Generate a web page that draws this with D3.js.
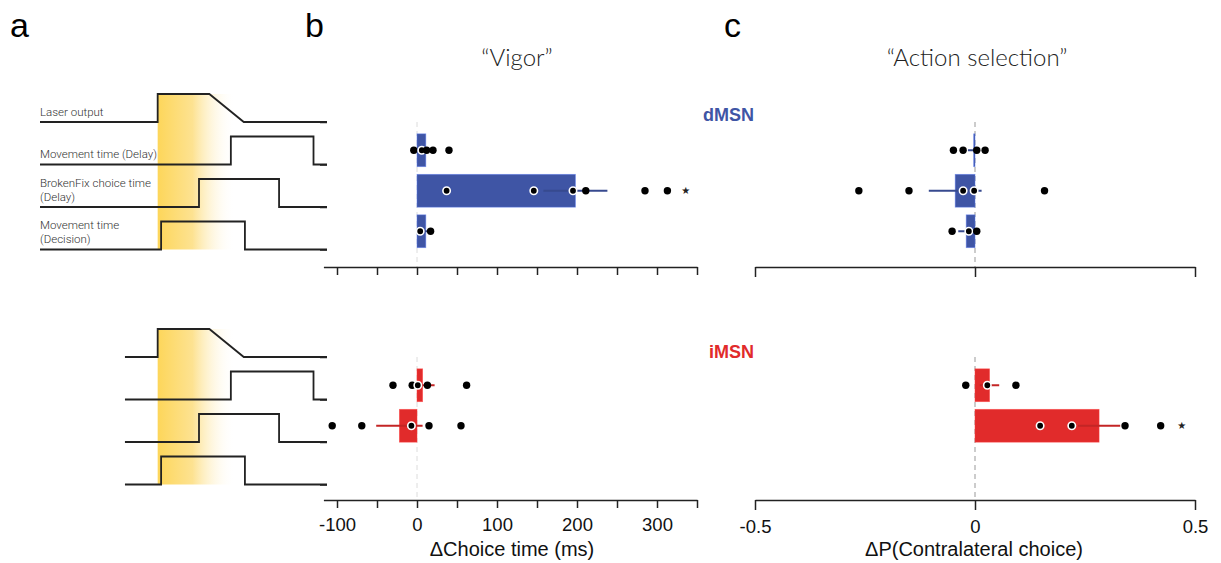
<!DOCTYPE html>
<html>
<head>
<meta charset="utf-8">
<script src="https://cdn.jsdelivr.net/npm/d3@7/dist/d3.min.js"></script>
<style>
  body { margin: 0; background: #fff; }
  text { font-family: "Liberation Sans", Arial, Helvetica, sans-serif; }
</style>
</head>
<body>
<div id="chart"></div>
<script>
// ---- data ----
const groups = ['dMSN', 'iMSN'];
const categories = ['Movement time (Delay)', 'BrokenFix choice time (Delay)', 'Movement time (Decision)'];

// schematic traces of panel a (time in s, laser onset at 0)
const traceLabels = [['Laser output'], ['Movement time (Delay)'], ['BrokenFix choice time', '(Delay)'], ['Movement time', '(Decision)']];
const traceOnset = [0, 0.255, 0.144, 0.012];
const traceOffset = [0.18, 0.543, 0.423, 0.304];
const laserRampEnd = 0.30;
const laserShadeEnd = 0.27;
const traceStart = [-0.41, -0.114];
const traceEnd = 0.59;

// "Vigor": delta choice time (ms)
const vigorMeanD = [11, 198, 11];
const vigorSeD = [5, 40, 4];
const vigorPointsD = [[-4, 6, 12, 20, 40], [37, 146, 195, 211, 285, 313], [4, 17]];
const vigorStarD = [null, 336, null];
const vigorMeanI = [7, -22, null];
const vigorSeI = [15, 29, null];
const vigorPointsI = [[-30, -6, 1, 13, 62], [-106, -69, -7, 15, 55], []];
const vigorStarI = [null, null, null];
const vigorTicks = [-100, -50, 0, 50, 100, 150, 200, 250, 300, 350];

// "Action selection": delta P(contralateral choice)
const choiceMeanD = [-0.003, -0.045, -0.02];
const choiceSeD = [0.013, 0.06, 0.018];
const choicePointsD = [[-0.049, -0.027, 0.004, 0.023], [-0.264, -0.15, -0.027, -0.002, 0.158], [-0.052, -0.014, 0.004]];
const choiceStarD = [null, null, null];
const choiceMeanI = [0.033, 0.282, null];
const choiceSeI = [0.022, 0.048, null];
const choicePointsI = [[-0.021, 0.028, 0.093], [0.148, 0.22, 0.341, 0.422], []];
const choiceStarI = [null, 0.47, null];
const choiceTicks = [-0.5, 0, 0.5];

// ---- layout ----
const width = 1221, height = 563;
const groupColor = ['#3F55A5', '#E12B2B'];
const groupShift = [0, 235];
const axisY = [267, 500];
const traceH = 28;

const svg = d3.select('#chart').append('svg')
    .attr('width', width)
    .attr('height', height);

const grad = svg.append('defs').append('linearGradient')
    .attr('id', 'laserGrad').attr('x1', '0%').attr('x2', '100%');
grad.append('stop').attr('offset', '0%').attr('stop-color', '#FDD65A');
grad.append('stop').attr('offset', '45%').attr('stop-color', '#FDE291');
grad.append('stop').attr('offset', '100%').attr('stop-color', '#FFFFFF').attr('stop-opacity', 0);

const tScale = d3.scaleLinear().domain([-0.41, 0.59]).range([40, 327]);
const traceBase = d3.scaleLinear().domain([0, 3]).range([122, 249.5]);
const xVigor = d3.scaleLinear().domain([-117, 350]).range([323.4, 697]);
const xChoice = d3.scaleLinear().domain([-0.5, 0.5]).range([755, 1195]);

// panel letters and titles
[['a', 10], ['b', 305], ['c', 724]].forEach(([l, x]) => {
    svg.append('text').attr('x', x).attr('y', 37).attr('font-size', 34).attr('fill', '#000').text(l);
});
svg.append('text').attr('x', 517).attr('y', 66).attr('text-anchor', 'middle')
    .style('font-family', 'Lato, "Open Sans", sans-serif').attr('font-weight', 300)
    .attr('font-size', 24).attr('fill', '#222').text('\u201CVigor\u201D');
svg.append('text').attr('x', 977).attr('y', 66).attr('text-anchor', 'middle')
    .style('font-family', 'Lato, "Open Sans", sans-serif').attr('font-weight', 300)
    .attr('font-size', 24).attr('fill', '#222').text('\u201CAction selection\u201D');

const traceLine = d3.line().x(d => tScale(d[0])).y(d => d[1]).curve(d3.curveLinear);

function drawTraces(gi) {
    const shift = groupShift[gi];
    const g = svg.append('g');
    g.append('rect')
        .attr('x', tScale(0))
        .attr('width', tScale(laserShadeEnd) - tScale(0))
        .attr('y', traceBase(0) + shift - traceH)
        .attr('height', traceBase(3) - traceBase(0) + traceH)
        .attr('fill', 'url(#laserGrad)');

    traceLabels.forEach((lines, i) => {
        const base = traceBase(i) + shift;
        const top = base - traceH;
        const on = traceOnset[i], off = traceOffset[i];
        const pts = i === 0
            ? [[traceStart[gi], base], [on, base], [on, top], [off, top], [laserRampEnd, base], [traceEnd, base]]
            : [[traceStart[gi], base], [on, base], [on, top], [off, top], [off, base], [traceEnd, base]];
        g.append('path')
            .attr('d', traceLine(pts))
            .attr('fill', 'none')
            .attr('stroke', '#222')
            .attr('stroke-width', 1.8);

        if (gi === 0) {
            lines.forEach((t, k) => {
                g.append('text')
                    .attr('x', 40)
                    .attr('y', base - 6.5 - (lines.length - 1 - k) * 14)
                    .style('font-family', 'Roboto, "Noto Sans", sans-serif')
                    .attr('font-weight', 300)
                    .attr('font-size', 11.5)
                    .attr('fill', '#333')
                    .text(t);
            });
        }
    });
}

function drawBars(gi, x, means, ses, points, stars, ticks, opts) {
    const shift = groupShift[gi];
    const color = groupColor[gi];
    const g = svg.append('g');
    const yRow = d3.scaleBand().domain(categories)
        .range([130 + shift, 251.5 + shift])
        .paddingInner(0.19).paddingOuter(0.095);

    if (opts.yTicks) {
        const yAxis = d3.axisLeft(d3.scaleLinear().domain([0, 3]).range([traceBase(0) + shift, traceBase(3) + shift]))
            .ticks(4).tickSize(7).tickFormat('');
        const ya = g.append('g').attr('transform', 'translate(327,0)').call(yAxis);
        ya.select('.domain').remove();
        ya.selectAll('line').attr('stroke', '#222').attr('stroke-width', 1.5);
    }

    // zero reference
    g.append('line')
        .attr('x1', x(0)).attr('x2', x(0))
        .attr('y1', traceBase(0) + shift).attr('y2', axisY[gi])
        .attr('stroke', opts.zeroColor)
        .attr('stroke-width', 1)
        .attr('stroke-dasharray', '5,4');

    categories.forEach((cat, i) => {
        const m = means[i];
        if (m === null) return;
        const cy = yRow(cat) + yRow.bandwidth() / 2;
        const lo = Math.min(0, m), hi = Math.max(0, m);
        g.append('rect')
            .attr('x', x(lo))
            .attr('width', Math.max(x(hi) - x(lo), 1.2))
            .attr('y', yRow(cat))
            .attr('height', yRow.bandwidth())
            .attr('fill', color)
            .attr('stroke', d3.color(color).brighter(1))
            .attr('stroke-opacity', 0.6)
            .attr('stroke-width', 0.8);
        g.append('line')
            .attr('x1', x(m - ses[i])).attr('x2', x(m + ses[i]))
            .attr('y1', cy).attr('y2', cy)
            .attr('stroke', d3.color(color).darker(0.4))
            .attr('stroke-width', 2);
        g.selectAll(null)
            .data(points[i])
            .enter()
            .append('circle')
            .attr('cx', d => x(d))
            .attr('cy', cy)
            .attr('r', 3.7)
            .attr('fill', '#000')
            .attr('stroke', d => (d > lo && d < hi) ? '#fff' : 'none')
            .attr('stroke-width', 1.6);
        if (stars[i] !== null) {
            g.append('text')
                .attr('x', x(stars[i]))
                .attr('y', cy + 3.5)
                .attr('text-anchor', 'middle')
                .style('font-family', '"DejaVu Sans", sans-serif')
                .attr('font-size', 10)
                .attr('fill', '#222')
                .text('\u2605');
        }
    });

    const axis = d3.axisBottom(x)
        .tickValues(ticks)
        .tickSize(opts.tickSize)
        .tickSizeOuter(0)
        .tickPadding(10)
        .tickFormat(d => (gi === 1 && opts.label(d)) ? String(d) : '');
    const ax = g.append('g')
        .attr('transform', `translate(0,${axisY[gi]})`)
        .call(axis);
    ax.select('.domain').attr('stroke', '#222').attr('stroke-width', 1.5);
    ax.selectAll('.tick line').attr('stroke', '#222').attr('stroke-width', 1.5);
    ax.selectAll('.tick text')
        .attr('font-size', 18.5)
        .attr('fill', '#111')
        .style('font-family', '"Liberation Sans", Arial, sans-serif');
}

groups.forEach((name, gi) => {
    drawTraces(gi);
    drawBars(gi, xVigor,
        gi === 0 ? vigorMeanD : vigorMeanI,
        gi === 0 ? vigorSeD : vigorSeI,
        gi === 0 ? vigorPointsD : vigorPointsI,
        gi === 0 ? vigorStarD : vigorStarI,
        vigorTicks,
        { yTicks: true, zeroColor: '#dcdcdc', tickSize: 8, label: d => d % 100 === 0 });
    drawBars(gi, xChoice,
        gi === 0 ? choiceMeanD : choiceMeanI,
        gi === 0 ? choiceSeD : choiceSeI,
        gi === 0 ? choicePointsD : choicePointsI,
        gi === 0 ? choiceStarD : choiceStarI,
        choiceTicks,
        { yTicks: false, zeroColor: '#999', tickSize: 10, label: d => true });

    svg.append('text')
        .attr('x', 754)
        .attr('y', gi === 0 ? 121 : 358)
        .attr('text-anchor', 'end')
        .attr('font-weight', 'bold')
        .attr('font-size', 18)
        .attr('fill', groupColor[gi])
        .text(name);
});

// axis titles
svg.append('text').attr('x', 512).attr('y', 556).attr('text-anchor', 'middle')
    .attr('font-size', 20).attr('fill', '#111').text('\u0394Choice time (ms)');
svg.append('text').attr('x', 974).attr('y', 556).attr('text-anchor', 'middle')
    .attr('font-size', 20).attr('fill', '#111').text('\u0394P(Contralateral choice)');
</script>
</body>
</html>
